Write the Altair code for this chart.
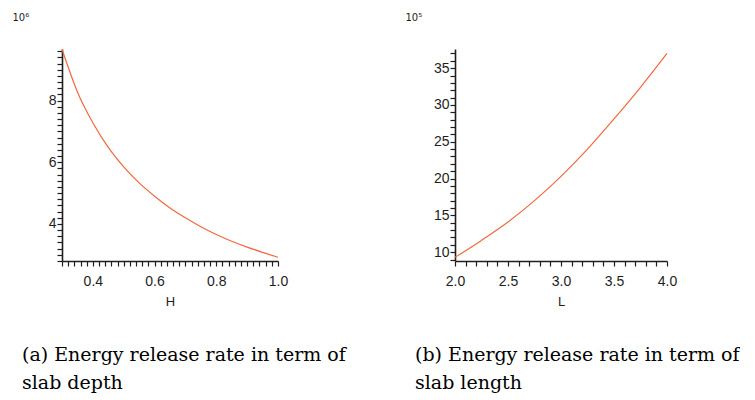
import json
import altair as alt
import pandas as pd
import numpy as np

# ---- data ----
H = [0.30, 0.35, 0.40, 0.45, 0.50, 0.55, 0.60, 0.65, 0.70, 0.75, 0.80, 0.85, 0.90, 0.95, 1.00]
G_H = [9.66, 8.28, 7.28, 6.48, 5.85, 5.33, 4.90, 4.52, 4.20, 3.91, 3.66, 3.44, 3.25, 3.08, 2.92]

L = [2.00, 2.25, 2.50, 2.75, 3.00, 3.25, 3.50, 3.75, 4.00]
G_L = [9.3, 11.6, 14.1, 17.0, 20.3, 24.0, 28.1, 32.4, 37.0]

# tick labels
H_labels = [0.4, 0.6, 0.8, 1.0]
GH_labels = [4, 6, 8]
L_labels = [2.0, 2.5, 3.0, 3.5, 4.0]
GL_labels = [10, 15, 20, 25, 30, 35]

caption_a = ["(a) Energy release rate in term of", "slab depth"]
caption_b = ["(b) Energy release rate in term of", "slab length"]

# minor tick positions
H_ticks = [round(v, 2) for v in np.arange(0.30, 1.0001, 0.02)]
GH_ticks = [round(v, 1) for v in np.arange(2.8, 9.61, 0.2)]
L_ticks = [round(v, 1) for v in np.arange(2.0, 4.001, 0.1)]
GL_ticks = [float(v) for v in range(9, 38)]

AX = "#1e1e1e"
CURVE = "#f2683f"


def make_axis(values, labels, fmt, title, **kw):
    expr = f"indexof({json.dumps(labels)}, datum.value) >= 0 ? format(datum.value, '{fmt}') : ''"
    return alt.Axis(
        values=values, labelExpr=expr, title=title, grid=False,
        tickSize=5, tickWidth=1.2, tickColor=AX, domainColor=AX, domainWidth=1.6,
        labelFont="Liberation Sans", labelFontSize=14, labelColor=AX,
        labelOverlap=False, labelFlush=False, **kw)


def xaxis(values, labels, title):
    return make_axis(values, labels, ".1f", title, labelPadding=8,
                     titleFont="Liberation Sans", titleFontSize=13,
                     titleFontWeight="normal", titleColor=AX, titlePadding=7)


def yaxis(values, labels, title):
    return make_axis(values, labels, ".0f", title, labelPadding=1,
                     titleAngle=0, titleX=-50, titleY=-32, titleAlign="left",
                     titleBaseline="middle", titleFont="DejaVu Sans",
                     titleFontSize=10, titleFontWeight="normal", titleColor=AX)


def caption(text):
    return alt.TitleParams(text=text, orient="bottom", anchor="start", frame="group",
                           dx=-40, offset=38, font="DejaVu Serif", fontSize=19,
                           fontWeight="normal", color="black", lineHeight=28)


df_a = pd.DataFrame({"H": H, "G": G_H})
df_b = pd.DataFrame({"L": L, "G": G_L})

a = alt.Chart(df_a).mark_line(color=CURVE, strokeWidth=1.2, interpolate="monotone").encode(
    x=alt.X("H:Q", scale=alt.Scale(domain=[0.3, 1.0], nice=False, zero=False),
            axis=xaxis(H_ticks, H_labels, "H")),
    y=alt.Y("G:Q", scale=alt.Scale(domain=[2.8, 9.67], nice=False, zero=False),
            axis=yaxis(GH_ticks, GH_labels, "10⁶")),
).properties(width=216, height=212, title=caption(caption_a))

b = alt.Chart(df_b).mark_line(color=CURVE, strokeWidth=1.2, interpolate="monotone").encode(
    x=alt.X("L:Q", scale=alt.Scale(domain=[2.0, 4.0], nice=False, zero=False),
            axis=xaxis(L_ticks, L_labels, "L")),
    y=alt.Y("G:Q", scale=alt.Scale(domain=[8.8, 37.6], nice=False, zero=False),
            axis=yaxis(GL_ticks, GL_labels, "10⁵")),
).properties(width=212, height=212, title=caption(caption_b))

chart = alt.hconcat(a, b, spacing=177, bounds="flush").properties(
    padding={"left": 4, "top": 4, "right": 0, "bottom": 0},
    background="white",
).configure_view(strokeWidth=0)

chart.save("out.html", embed_options={"renderer": "svg", "actions": False})
